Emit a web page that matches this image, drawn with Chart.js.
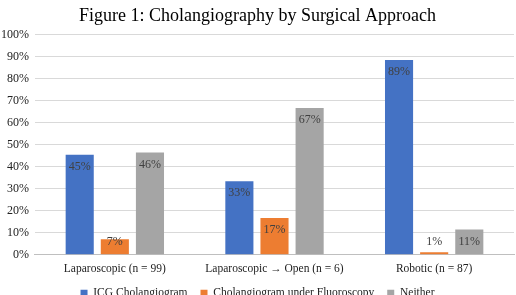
<!DOCTYPE html>
<html>
<head>
<meta charset="utf-8">
<script src="https://cdn.jsdelivr.net/npm/chart.js@4/dist/chart.umd.min.js"></script>
<style>
	html, body { margin: 0; padding: 0; background: #fff; }
	#wrap { width: 516px; height: 295px; }
</style>
</head>
<body>
<div id="wrap"><canvas id="chart"></canvas></div>
<script>
const categories = [
	'Laparoscopic (n = 99)',
	'Laparoscopic \u2192 Open (n = 6)',
	'Robotic (n = 87)',
];
const seriesNames = ['ICG Cholangiogram', 'Cholangiogram under Fluoroscopy', 'Neither'];
const icgValues = [45.45, 33.33, 88.51];
const fluoroValues = [7.07, 16.67, 1.15];
const neitherValues = [46.46, 66.67, 11.49];
const icgLabels = ['45%', '33%', '89%'];
const fluoroLabels = ['7%', '17%', '1%'];
const neitherLabels = ['46%', '67%', '11%'];
const yTicks = [0, 10, 20, 30, 40, 50, 60, 70, 80, 90, 100];

const serif = '"Liberation Serif", "Times New Roman", serif';
const colors = ['#4472C4', '#ED7D31', '#A5A5A5'];
const allLabels = [icgLabels, fluoroLabels, neitherLabels];

// simple "inside end" labels, drawn after the bars
const barLabels = {
	id: 'barLabels',
	afterDatasetsDraw(chart) {
		const ctx = chart.ctx;
		ctx.save();
		ctx.font = '12px ' + serif;
		ctx.fillStyle = '#404040';
		ctx.textAlign = 'center';
		ctx.textBaseline = 'middle';
		chart.data.datasets.forEach((ds, i) => {
			const meta = chart.getDatasetMeta(i);
			meta.data.forEach((bar, j) => {
				// inside the top of the bar, but never lower than near the base
				const y = Math.min(bar.y + 12, bar.base - 12);
				ctx.fillText(allLabels[i][j], bar.x, y);
			});
		});
		ctx.restore();
	}
};

const ctx = document.getElementById('chart').getContext('2d');
new Chart(ctx, {
	type: 'bar',
	data: {
		labels: categories,
		datasets: [
			{label: seriesNames[0], data: icgValues, backgroundColor: colors[0]},
			{label: seriesNames[1], data: fluoroValues, backgroundColor: colors[1]},
			{label: seriesNames[2], data: neitherValues, backgroundColor: colors[2]},
		].map((d) => Object.assign(d, {
			barPercentage: 0.8,
			categoryPercentage: 0.66,
			borderWidth: 0,
		})),
	},
	options: {
		responsive: true,
		maintainAspectRatio: false,
		animation: false,
		layout: {padding: {left: 1, right: 2, top: 1, bottom: -14}},
		plugins: {
			title: {
				display: true,
				text: 'Figure 1: Cholangiography by Surgical Approach',
				color: '#000',
				font: {family: serif, size: 18, weight: 'normal'},
				padding: {top: 4, bottom: 8},
			},
			legend: {
				position: 'bottom',
				labels: {
					color: '#222',
					font: {family: serif, size: 11.5},
					boxWidth: 7,
					boxHeight: 7,
					padding: 13,
				},
			},
			tooltip: {enabled: false},
		},
		scales: {
			x: {
				grid: {display: false},
				border: {color: '#bfbfbf'},
				ticks: {color: '#222', font: {family: serif, size: 11.5}, padding: -1},
			},
			y: {
				min: 0,
				max: 100,
				afterBuildTicks: (axis) => { axis.ticks = yTicks.map((v) => ({value: v})); },
				// a little narrower so the tick labels sit near the left edge
				afterFit: (scale) => { scale.width -= 6; },
				grid: {color: '#d9d9d9', drawTicks: false},
				border: {display: false},
				ticks: {
					color: '#222',
					font: {family: serif, size: 12},
					padding: 6,
					callback: (v) => v + '%',
				},
			},
		},
	},
	plugins: [barLabels],
});
</script>
</body>
</html>
